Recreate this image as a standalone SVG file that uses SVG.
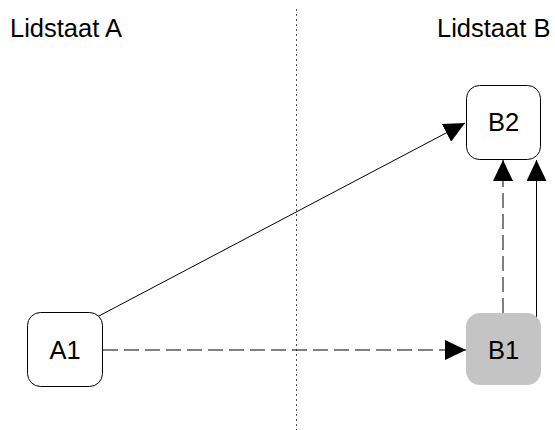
<svg xmlns="http://www.w3.org/2000/svg" width="555" height="430" viewBox="0 0 555 430">
<style>
.lbl{font-family:"Liberation Sans",Arial,sans-serif;font-size:25.5px;fill:#000}
.box{fill:#fff;stroke:#000;stroke-width:1}
.boxg{fill:#c4c4c4;stroke:#c4c4c4;stroke-width:1}
.edge{fill:none;stroke:#000;stroke-width:1}
.dash{stroke-dasharray:15 6}
.sep{fill:none;stroke:#555;stroke-width:1;stroke-dasharray:2 3}
</style>
<defs>
<marker id="ah" markerUnits="userSpaceOnUse" markerWidth="21" markerHeight="20" refX="21" refY="10" orient="auto">
<path d="M0,0 L21,10 L0,20 z" fill="#000"/>
</marker>
</defs>
<rect width="555" height="430" fill="#fff"/>
<line class="sep" x1="296.5" y1="9" x2="296.5" y2="430"/>
<text class="lbl" x="10" y="37">Lidstaat A</text>
<text class="lbl" x="437" y="37">Lidstaat B</text>
<g id="connectors">
<line class="edge" x1="97" y1="317" x2="465" y2="123" marker-end="url(#ah)"/>
<line class="edge dash" x1="103" y1="350" x2="466" y2="350" marker-end="url(#ah)"/>
<line class="edge dash" x1="503" y1="313" x2="503" y2="160" marker-end="url(#ah)"/>
<line class="edge" x1="536.5" y1="320" x2="536.5" y2="160" marker-end="url(#ah)"/>
</g>
<g id="A1">
<rect class="box" x="27.5" y="312.5" width="75" height="74" rx="13"/>
<text class="lbl" x="65" y="359" text-anchor="middle">A1</text>
</g>
<g id="B1">
<rect class="boxg" x="466.5" y="313.5" width="74" height="71" rx="13"/>
<text class="lbl" x="503.5" y="359" text-anchor="middle">B1</text>
</g>
<g id="B2">
<rect class="box" x="466.5" y="85.5" width="74" height="74" rx="13"/>
<text class="lbl" x="503.5" y="131" text-anchor="middle">B2</text>
</g>
</svg>
